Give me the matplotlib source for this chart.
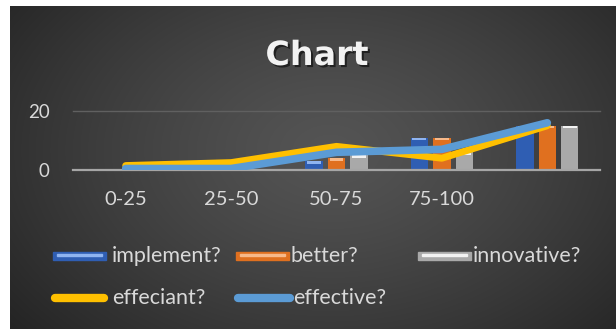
import numpy as np
import matplotlib
matplotlib.use("Agg")
import matplotlib.pyplot as plt
from matplotlib.patches import Rectangle
from matplotlib.lines import Line2D
import matplotlib.patheffects as pe

# ---- data ----
categories = ["0-25", "25-50", "50-75", "75-100", ""]
implement = [0, 0, 3, 11, 15]
better = [0, 0, 4, 11, 15]
innovative = [0, 0, 5, 6, 15]
effeciant = [1.5, 2.5, 8, 4, 15]
effective = [0.5, 0.5, 6, 7, 16]
y_ticks = [0, 20]

bar_series = [("implement?", implement, "#2f5eb3", "#8fb4f0"),
              ("better?", better, "#e0701f", "#f7b98a"),
              ("innovative?", innovative, "#a9a9a9", "#f2f2f2")]
line_series = [("effeciant?", effeciant, "#ffc000", 5.0),
               ("effective?", effective, "#5b9bd5", 5.5)]

W, H = 616, 329
fig = plt.figure(figsize=(W / 100, H / 100), dpi=100, facecolor="white")

# ---- dark panel with soft radial shading ----
bg = fig.add_axes([0, 0, 1, 1], zorder=0)
bg.set_xlim(0, W)
bg.set_ylim(H, 0)
bg.axis("off")
yy, xx = np.mgrid[0:H, 0:W]
d = np.sqrt(((xx - 330) / 380.0) ** 2 + ((yy - 150) / 260.0) ** 2)
shade = np.clip(0.33 - 0.17 * d ** 1.3, 0.13, 0.33)
img = np.dstack([shade, shade, shade])
bg.imshow(img[6:, 10:], extent=(10, W, H, 6), interpolation="bilinear", aspect="auto")

text_col = "#d9d9d9"
fnt = "Lato"

# ---- title ----
fig.text(317 / W, 1 - 65 / H, "Chart", fontsize=24, fontweight="bold",
         family="DejaVu Sans", color="#f2f2f2", ha="center", va="baseline",
         path_effects=[pe.withSimplePatchShadow(offset=(1.5, -1.5), shadow_rgbFace="black", alpha=0.55)])

# ---- plot area ----
ax = fig.add_axes([73 / W, (H - 170) / H, (600 - 73) / W, 59 / H], zorder=1)
ax.patch.set_alpha(0)
x = np.arange(len(categories))
bw = 0.165
step = 0.213
for i, (name, vals, col, cap) in enumerate(bar_series):
    xs = x + (i - 1) * step
    ax.bar(xs, vals, width=bw, color=col, zorder=2)
    v = np.array(vals, dtype=float)
    capv = np.where(v > 0, 0.9, 0)
    ax.bar(xs, capv, width=bw * 0.8, bottom=v - capv, color=cap, zorder=2.5)

for name, vals, col, lw in line_series:
    ax.plot(x, vals, color=col, lw=lw, solid_capstyle="round", solid_joinstyle="round", zorder=4)

ax.set_xlim(-0.5, len(categories) - 0.5)
ax.set_ylim(0, 20)
ax.set_yticks(y_ticks)
ax.set_yticklabels([str(t) for t in y_ticks])
ax.set_xticks(x)
ax.set_xticklabels(categories)
ax.tick_params(axis="x", length=0, pad=15, labelsize=14.5, labelcolor=text_col)
ax.tick_params(axis="y", length=0, pad=17, labelsize=13.5, labelcolor=text_col)
for lab in ax.get_xticklabels() + ax.get_yticklabels():
    lab.set_family(fnt)
for s in ax.spines.values():
    s.set_visible(False)
ax.axhline(20, color="#606060", lw=1.0, zorder=1, clip_on=False)
ax.axhline(0, color="#a6a6a6", lw=1.6, zorder=3, clip_on=False)

# ---- legend ----
leg = fig.add_axes([0, 0, 1, 1], zorder=2)
leg.set_xlim(0, W)
leg.set_ylim(H, 0)
leg.axis("off")
bar_pos = [(53, 112, 256), (236, 291, 256), (418, 473, 256)]
for (name, vals, col, cap), (sx, tx, yc) in zip(bar_series, bar_pos):
    leg.add_patch(Rectangle((sx, yc - 4), 53, 8, color=col))
    leg.add_patch(Rectangle((sx + 4, yc - 2.5), 45, 2.5, color=cap))
    leg.text(tx, yc, name, color=text_col, fontsize=15.5, family=fnt, ha="left", va="center")
line_pos = [(55, 104, 112, 298), (238, 290, 293, 298)]
for (name, vals, col, lw), (x0, x1, tx, yc) in zip(line_series, line_pos):
    leg.add_line(Line2D([x0, x1], [yc, yc], color=col, lw=6, solid_capstyle="round"))
    leg.text(tx, yc, name, color=text_col, fontsize=15.5, family=fnt, ha="left", va="center")

fig.savefig("out.png", dpi=100, facecolor="white")
